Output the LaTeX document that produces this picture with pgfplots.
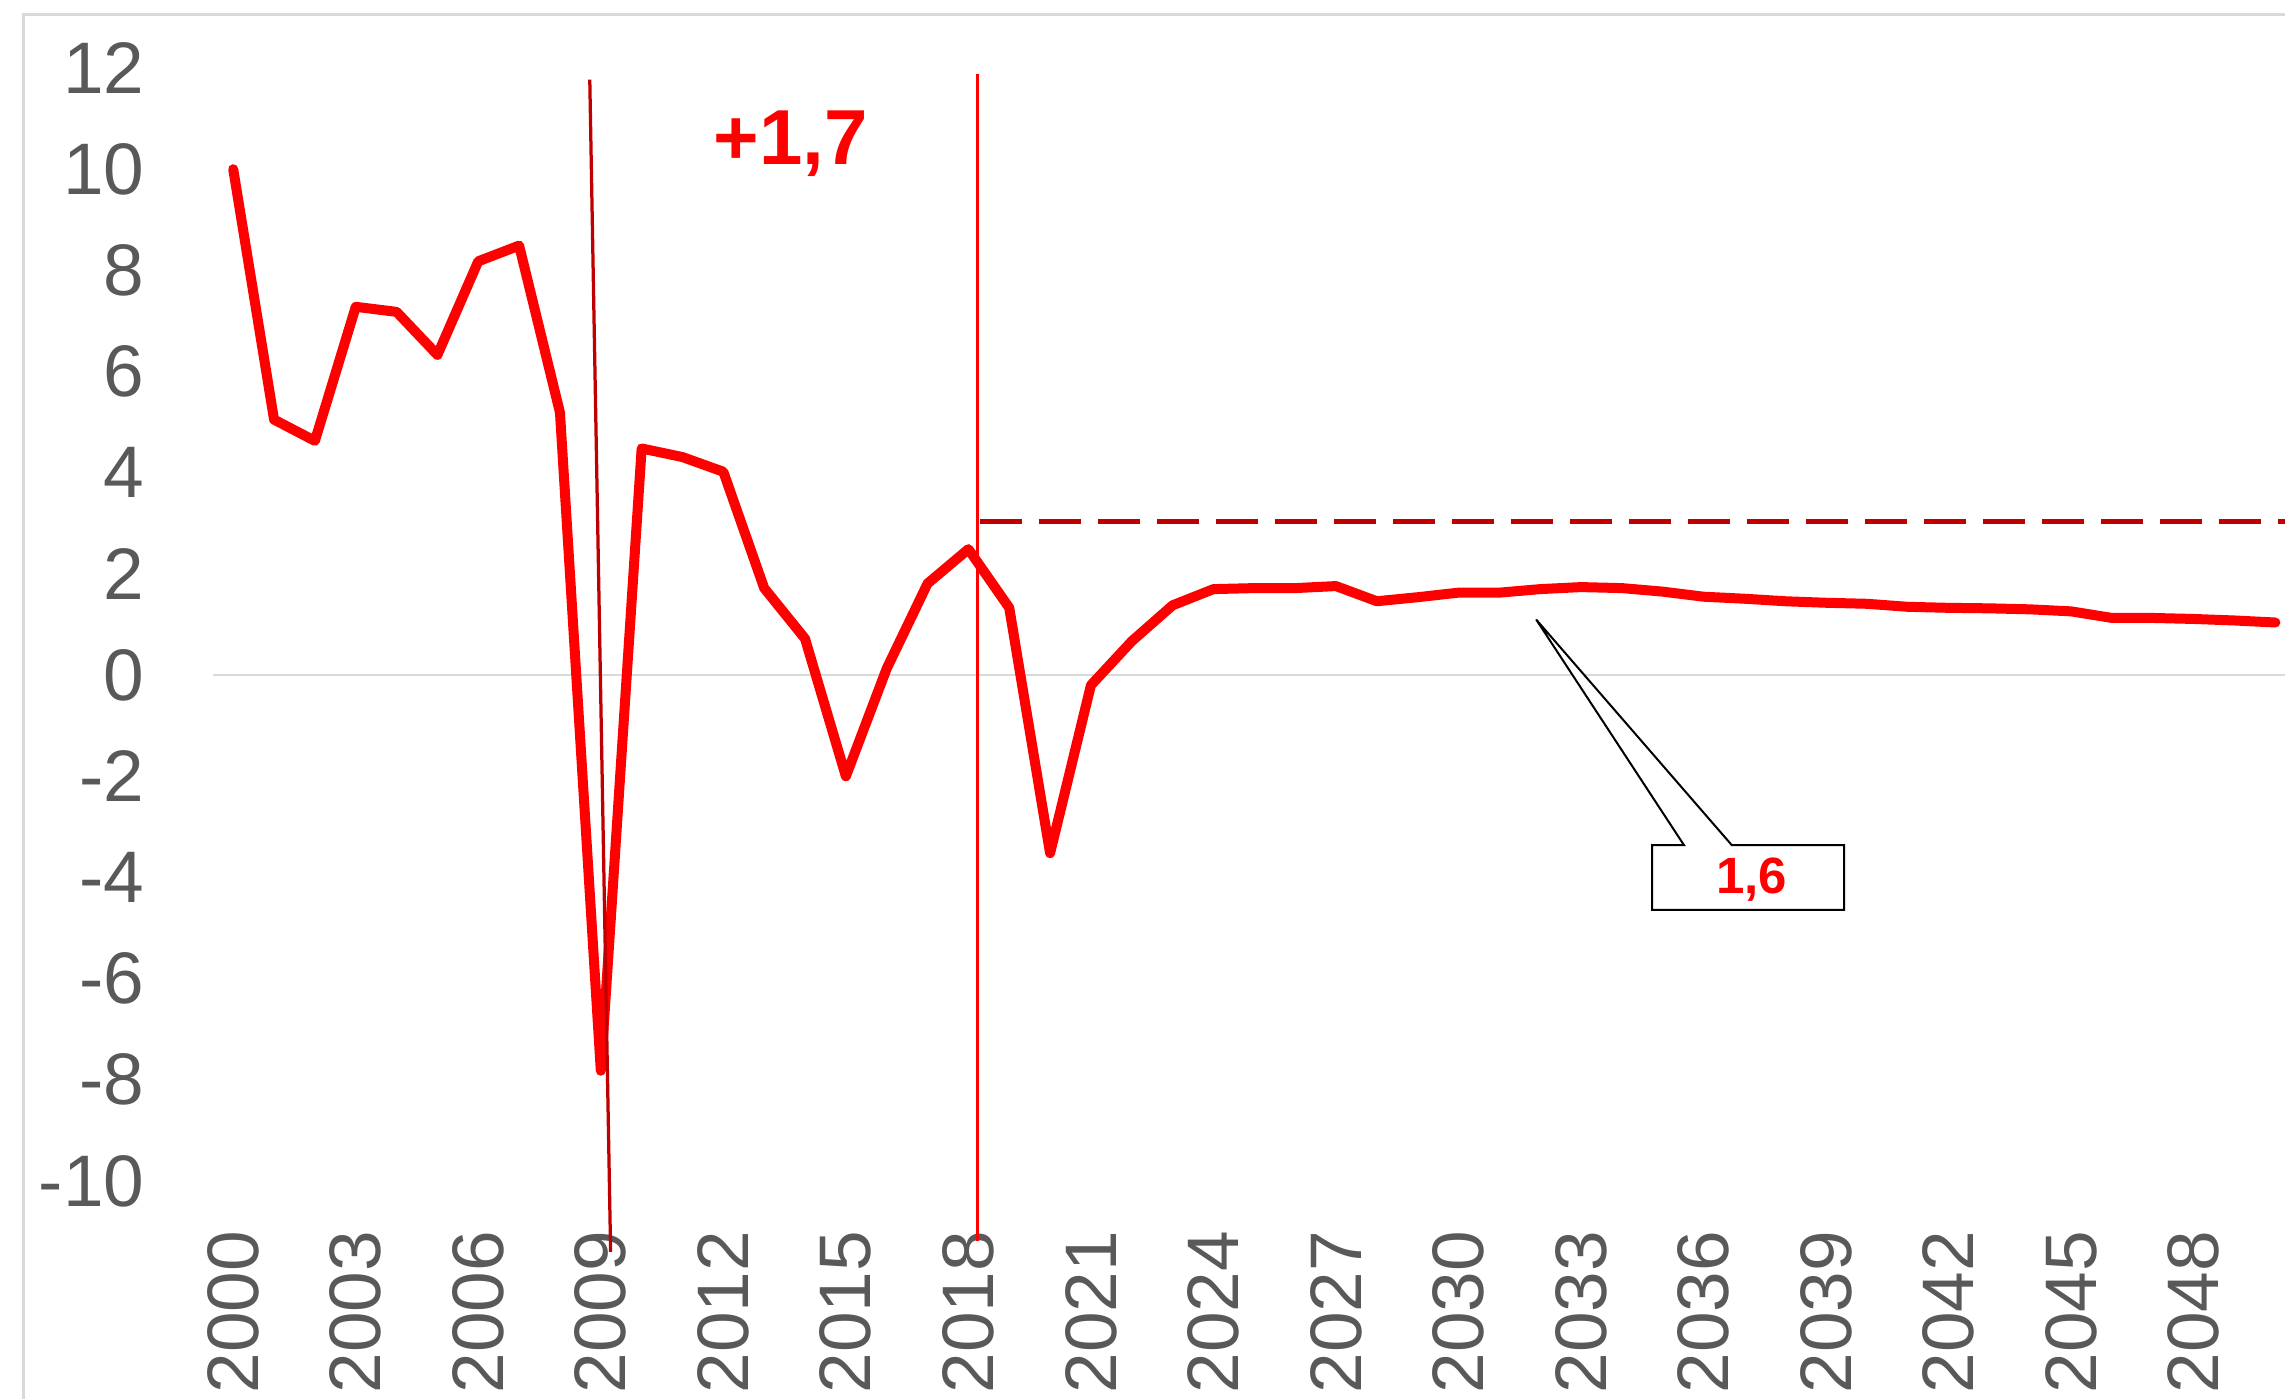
\documentclass[border=0pt]{standalone}
\usepackage{fontspec}
\setmainfont{Liberation Sans}
\usepackage{pgfplots}
\pgfplotsset{compat=1.18}
\definecolor{lblgray}{HTML}{595959}
\definecolor{zerogray}{HTML}{D9D9D9}
\definecolor{darkred}{HTML}{C00000}
\definecolor{brightred}{HTML}{FF0000}

\pgfplotstableread{
year val
2000 10.0
2001 5.05
2002 4.63
2003 7.28
2004 7.18
2005 6.33
2006 8.18
2007 8.49
2008 5.19
2009 -7.82
2010 4.48
2011 4.31
2012 4.02
2013 1.72
2014 0.72
2015 -2.0
2016 0.13
2017 1.81
2018 2.49
2019 1.33
2020 -3.52
2021 -0.2
2022 0.67
2023 1.38
2024 1.70
2025 1.72
2026 1.72
2027 1.76
2028 1.46
2029 1.54
2030 1.63
2031 1.63
2032 1.70
2033 1.74
2034 1.72
2035 1.65
2036 1.55
2037 1.51
2038 1.46
2039 1.43
2040 1.41
2041 1.35
2042 1.33
2043 1.32
2044 1.30
2045 1.26
2046 1.13
2047 1.13
2048 1.11
2049 1.08
2050 1.04
}\growth

\begin{document}
\begin{tikzpicture}
  % fix the page to the reference's frame (1 px = 0.2pt)
  \useasboundingbox (-42.56pt,-43.4pt) rectangle (414.44pt,236.2pt);
  \begin{axis}[
    at={(0,0)}, anchor=south west,
    scale only axis,
    width=416.6pt, height=222.6pt,
    xmin=1999.5, xmax=2050.5,
    ymin=-10, ymax=12,
    clip=false,
    axis line style={draw=none},
    major tick length=0pt,
    xtick={2000,2003,...,2048},
    ytick={-10,-8,...,12},
    extra y ticks={0},
    extra y tick labels={},
    extra y tick style={grid=major, major grid style={draw=zerogray, line width=0.5pt}},
    /pgf/number format/assume math mode=true,
    /pgf/number format/1000 sep={},
    yticklabel style={anchor=east, inner sep=0pt, xshift=-13.5pt,
      font=\fontsize{14.6}{16}\selectfont, text=lblgray},
    xticklabel style={rotate=90, anchor=east, inner sep=0pt, xshift=-9.8pt,
      font=\fontsize{14.6}{16}\selectfont, text=lblgray},
  ]
  % --- growth series ---
  \addplot[brightred, line width=2pt, line join=round, line cap=round, mark=none]
    table[x=year, y=val] {\growth};
  % --- dashed reference level ---
  \addplot[darkred, line width=0.95pt, dash pattern=on 8.5pt off 3.3pt, mark=none]
    coordinates {(2018.28,3.04) (2051,3.04)};
  % --- vertical markers ---
  \draw[darkred, line width=0.65pt] (axis cs:2008.73,11.77) -- (axis cs:2009.24,-11.40);
  \draw[brightred, line width=0.6pt] (axis cs:2018.22,11.88) -- (axis cs:2018.22,-11.19);
  % --- annotations ---
  \node[text=brightred, font=\fontsize{15.6}{18}\selectfont\bfseries]
    at (axis cs:2013.65,10.51) {+1,7};
  \draw[black, line width=0.4pt, fill=white]
    (axis cs:2034.74,-3.36) -- (axis cs:2035.52,-3.36) -- (axis cs:2031.9,1.10)
    -- (axis cs:2036.69,-3.36) -- (axis cs:2039.44,-3.36)
    -- (axis cs:2039.44,-4.64) -- (axis cs:2034.74,-4.64) -- cycle;
  \node[text=brightred, font=\fontsize{10.2}{12}\selectfont\bfseries]
    at (axis cs:2037.18,-4.05) {1,6};
  \end{axis}
  % chart border
  \draw[zerogray, line width=0.5pt] (-37.84pt,-60pt) -- (-37.84pt,233.3pt) -- (460pt,233.3pt);
\end{tikzpicture}
\end{document}
